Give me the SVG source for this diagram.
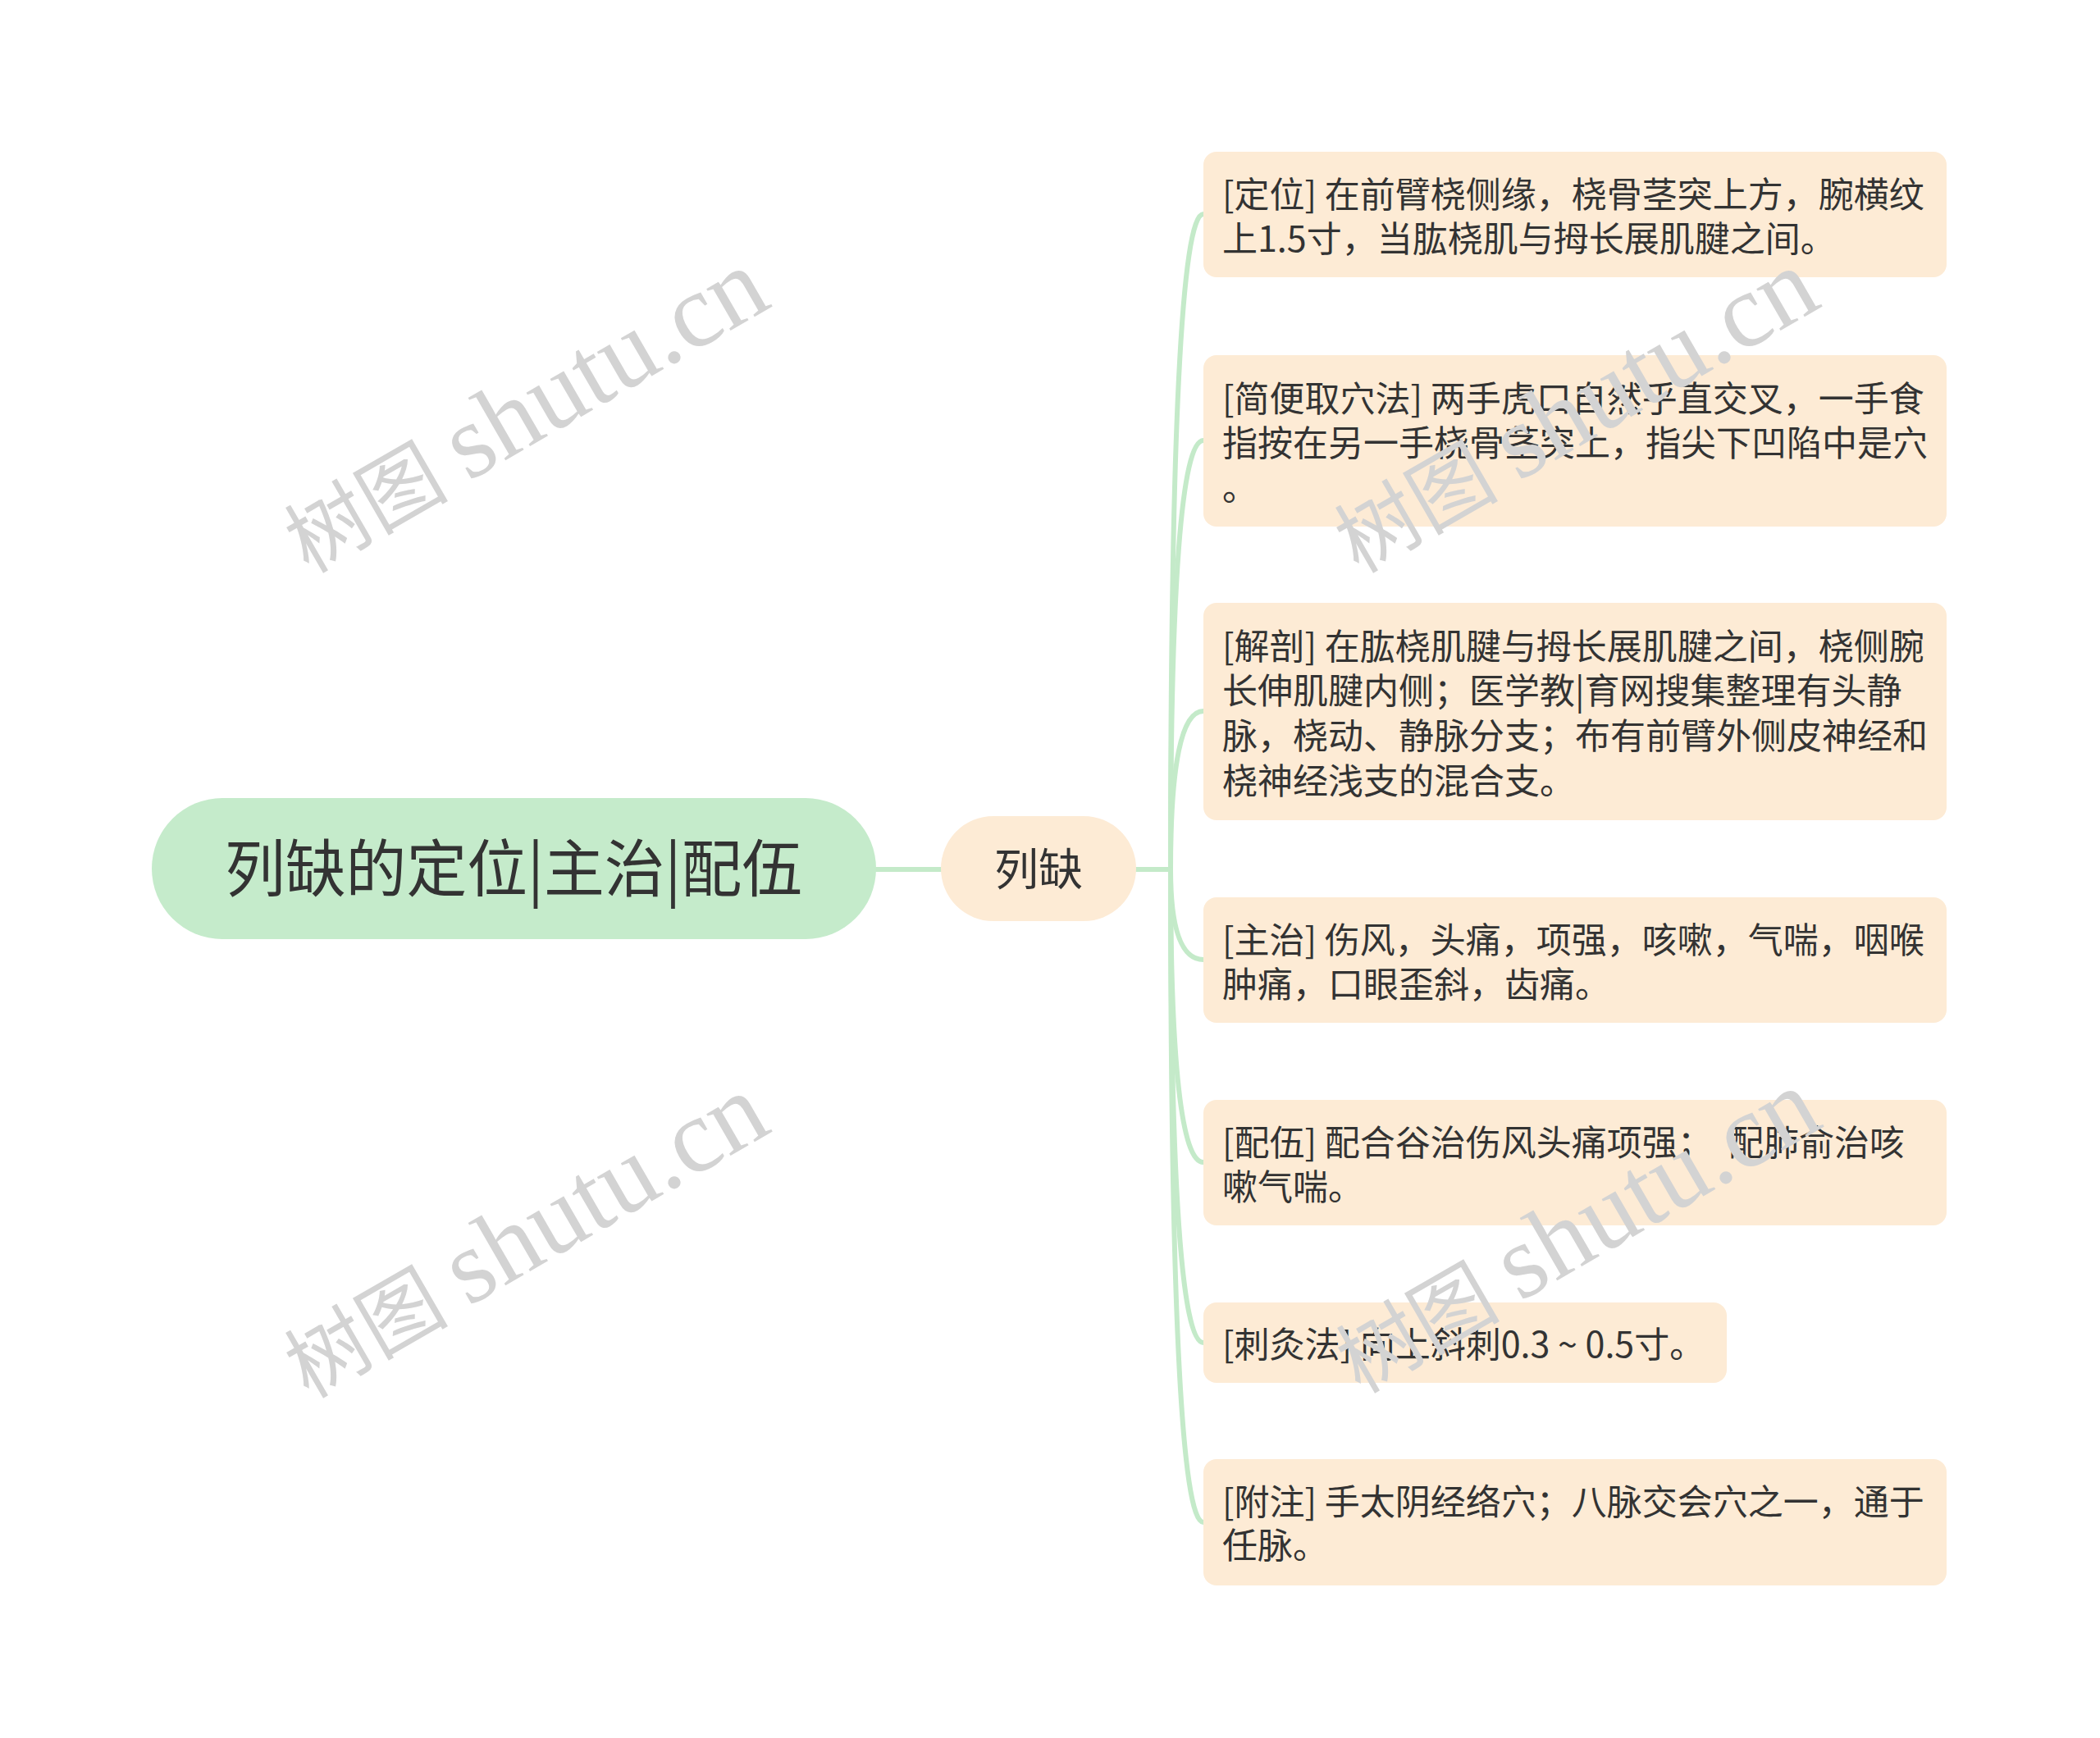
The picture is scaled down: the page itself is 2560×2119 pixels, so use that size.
<svg xmlns="http://www.w3.org/2000/svg" width="2560" height="2119" viewBox="0 0 2560 2119">
<style>
.wm{font-family:"Liberation Serif","Noto Sans CJK SC",serif;fill:#d3d3d3;}
.wmc{font-size:100px;}
.wml{font-size:128px;}
.t{font-family:"Noto Sans CJK SC","Noto Sans",sans-serif;fill:#333333;}
.leaf rect{fill:#fdebd5;}
.leaf text{font-size:43px;white-space:pre;}
.conn path{fill:none;stroke:#c4eac9;stroke-width:6;stroke-linecap:round;}
</style>
<rect width="2560" height="2119" fill="#ffffff"/>

<g id="connectors" class="conn">
<path d="M1068 1060 L1147 1060"/>
<path d="M1385 1060 L1427 1060"/>
<path d="M1427 1060 Q1427 261 1467 261"/>
<path d="M1427 1060 Q1427 537 1467 537"/>
<path d="M1427 1060 Q1427 867 1467 867"/>
<path d="M1427 1060 Q1427 1170 1467 1170"/>
<path d="M1427 1060 Q1427 1417 1467 1417"/>
<path d="M1427 1060 Q1427 1637 1467 1637"/>
<path d="M1427 1060 Q1427 1856 1467 1856"/>
</g>

<g id="root">
<rect x="185" y="973" width="883" height="172" rx="86" fill="#c5ebcb"/>
<text class="t" x="626" y="1087" font-size="76" text-anchor="middle" textLength="704" lengthAdjust="spacingAndGlyphs">列缺的定位|主治|配伍</text>
</g>

<g id="main">
<rect x="1147" y="995" width="238" height="128" rx="64" fill="#fdebd5"/>
<text class="t" x="1266" y="1080" font-size="54" text-anchor="middle">列缺</text>
</g>

<g id="leaf1" class="leaf">
<rect x="1467" y="185" width="906" height="153" rx="16"/>
<text class="t" x="1490" y="253">[定位] 在前臂桡侧缘，桡骨茎突上方，腕横纹</text>
<text class="t" x="1490" y="307">上1.5寸，当肱桡肌与拇长展肌腱之间。</text>
</g>

<g id="leaf2" class="leaf">
<rect x="1467" y="433" width="906" height="209" rx="16"/>
<text class="t" x="1490" y="502">[简便取穴法] 两手虎口自然乎直交叉，一手食</text>
<text class="t" x="1490" y="556">指按在另一手桡骨茎突上，指尖下凹陷中是穴</text>
<text class="t" x="1490" y="610">。</text>
</g>

<g id="leaf3" class="leaf">
<rect x="1467" y="735" width="906" height="265" rx="16"/>
<text class="t" x="1490" y="804">[解剖] 在肱桡肌腱与拇长展肌腱之间，桡侧腕</text>
<text class="t" x="1490" y="858">长伸肌腱内侧；医学教|育网搜集整理有头静</text>
<text class="t" x="1490" y="913">脉，桡动、静脉分支；布有前臂外侧皮神经和</text>
<text class="t" x="1490" y="968">桡神经浅支的混合支。</text>
</g>

<g id="leaf4" class="leaf">
<rect x="1467" y="1094" width="906" height="153" rx="16"/>
<text class="t" x="1490" y="1162">[主治] 伤风，头痛，项强，咳嗽，气喘，咽喉</text>
<text class="t" x="1490" y="1216">肿痛，口眼歪斜，齿痛。</text>
</g>

<g id="leaf5" class="leaf">
<rect x="1467" y="1341" width="906" height="153" rx="16"/>
<text class="t" x="1490" y="1409">[配伍] 配合谷治伤风头痛项强；  配肺俞治咳</text>
<text class="t" x="1490" y="1463">嗽气喘。</text>
</g>

<g id="leaf6" class="leaf">
<rect x="1467" y="1588" width="638" height="98" rx="16"/>
<text class="t" x="1490" y="1655">[刺灸法] 向上斜刺0.3 ~ 0.5寸。</text>
</g>

<g id="leaf7" class="leaf">
<rect x="1467" y="1779" width="906" height="154" rx="16"/>
<text class="t" x="1490" y="1847">[附注] 手太阴经络穴；八脉交会穴之一，通于</text>
<text class="t" x="1490" y="1900">任脉。</text>
</g>

<g id="watermarks">
<text class="wm" transform="translate(376,700) rotate(-30)"><tspan class="wmc">树图 </tspan><tspan class="wml">shutu.cn</tspan></text>
<text class="wm" transform="translate(1656,700) rotate(-30)"><tspan class="wmc">树图 </tspan><tspan class="wml">shutu.cn</tspan></text>
<text class="wm" transform="translate(376,1706) rotate(-30)"><tspan class="wmc">树图 </tspan><tspan class="wml">shutu.cn</tspan></text>
<text class="wm" transform="translate(1658,1700) rotate(-30)"><tspan class="wmc">树图 </tspan><tspan class="wml">shutu.cn</tspan></text>
</g>
</svg>
